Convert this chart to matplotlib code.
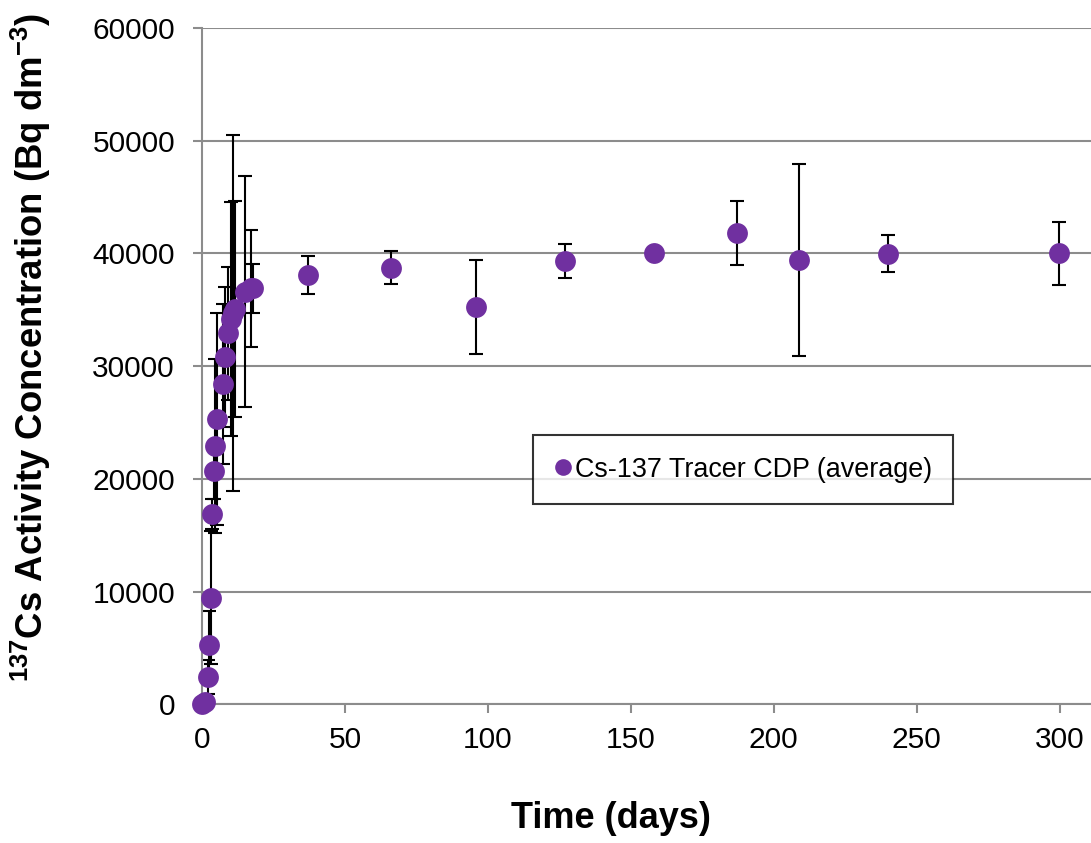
import matplotlib
matplotlib.use("Agg")
import matplotlib.pyplot as plt
from matplotlib.lines import Line2D

plt.rcParams['font.family'] = ['Liberation Sans', 'DejaVu Sans']
plt.rcParams['mathtext.default'] = 'regular'

# values
days = [0, 1, 2.2, 2.6, 3.0, 3.6, 4.1, 4.5, 5.1, 7.2, 7.9, 9.2, 10.2, 10.9,
        11.6, 15.0, 17.0, 17.8, 37.2, 66.1, 96.0, 126.9, 158.0, 187.0,
        208.9, 240.0, 299.8]
conc = [0, 250, 2470, 5280, 9470, 16900, 20740, 22950, 25320, 28430, 30790,
        32920, 34200, 34700, 35100, 36600, 36900, 36900, 38090, 38740, 35250,
        39340, 40020, 41790, 39420, 39960, 40020]
err = [0, 500, 1500, 3000, 5900, 1300, 2500, 7700, 9400, 7100, 6200, 5900,
       10350, 15800, 9570, 10230, 5190, 2190, 1650, 1450, 4170, 1500, 0,
       2840, 8550, 1640, 2800]

purple = "#7030A0"
grey = "#8c8c8c"

fig = plt.figure(figsize=(10.91, 8.43), dpi=100)
ax = fig.add_axes([0.1852, 0.1643, 0.8148, 0.8025])

ax.errorbar(days, conc, yerr=err, fmt='none', ecolor='black', elinewidth=1.5,
            capsize=5, capthick=1.5, zorder=2)
ax.plot(days, conc, 'o', color=purple, markersize=15, markeredgewidth=0,
        zorder=3, clip_on=False)

ax.set_xlim(0, 311)
ax.set_ylim(0, 60000)
ax.set_xticks(range(0, 301, 50))
ax.set_yticks(range(0, 60001, 10000))
ax.yaxis.grid(True, color=grey, linewidth=1.5)
ax.set_axisbelow(True)

for s in ['top', 'right']:
    ax.spines[s].set_visible(False)
for s in ['left', 'bottom']:
    ax.spines[s].set_color(grey)
    ax.spines[s].set_linewidth(1.5)
ax.tick_params(axis='both', colors=grey, length=6.5, width=1.5,
               labelcolor='black', labelsize=21.5)
ax.tick_params(axis='y', pad=13)
ax.tick_params(axis='x', pad=9)

ax.set_xlabel("Time (days)", fontsize=26, fontweight='bold')
ax.xaxis.set_label_coords(0.46, -0.143)
ax.set_ylabel(r"$^{137}$Cs Activity Concentration (Bq dm$^{-3}$)",
              fontsize=26.3, fontweight='bold')
ax.yaxis.set_label_coords(-0.1676, 0.528)

handle = Line2D([], [], marker='o', linestyle='none', color=purple,
                markersize=12, markeredgewidth=0)
leg = ax.legend([handle], ["Cs-137 Tracer CDP (average)"], fontsize=19.4,
                loc='upper left', bbox_to_anchor=(533 / 1091, 1 - 435 / 843),
                bbox_transform=fig.transFigure, frameon=True, fancybox=False,
                handlelength=0.6, handletextpad=0.15, borderpad=0.8,
                borderaxespad=0)
leg.get_frame().set_edgecolor('black')
leg.get_frame().set_linewidth(1.5)

fig.savefig("out.png", dpi=100)
